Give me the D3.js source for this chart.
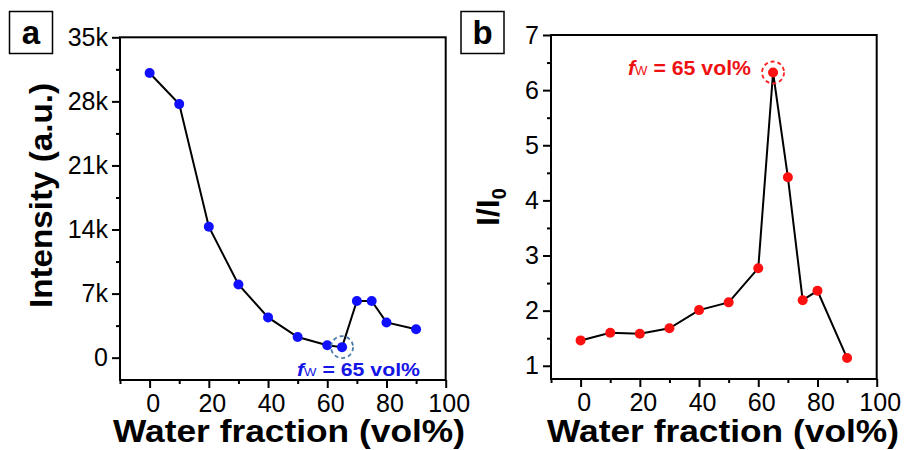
<!DOCTYPE html>
<html>
<head>
<meta charset="utf-8">
<script src="https://cdn.jsdelivr.net/npm/d3@7.9.0/dist/d3.min.js"></script>
<style>
  html, body { margin: 0; padding: 0; background: #fff; }
  svg { display: block; font-family: "Liberation Sans", Arial, sans-serif; }
  .tick text { font-size: 25px; fill: #000; }
  .domain { display: none; }
  .tick line { stroke: #000; stroke-width: 2; }
</style>
</head>
<body>
<svg id="chart" width="912" height="450"></svg>
<script>
// water fraction (vol%)
const fractions = [0, 10, 20, 30, 40, 50, 60, 65, 70, 75, 80, 90];
// panel a: PL intensity (a.u.)
const intensity = [31100, 27700, 14300, 8000, 4400, 2250, 1350, 1150, 6200, 6200, 3850, 3100];
// panel b: I/I0
const ratio = [1.46, 1.60, 1.58, 1.68, 2.01, 2.15, 2.77, 6.32, 4.42, 2.19, 2.36, 1.14];

const xTicks = [0, 20, 40, 60, 80, 100];
const xMinor = [-10, 10, 30, 50, 70, 90];
const intensityTicks = [0, 7000, 14000, 21000, 28000, 35000];
const intensityMinor = [3500, 10500, 17500, 24500, 31500];
const ratioTicks = [1, 2, 3, 4, 5, 6, 7];
const ratioMinor = [1.5, 2.5, 3.5, 4.5, 5.5, 6.5];

const svg = d3.select('#chart');

function drawPanel(p) {
  const x = d3.scaleLinear().domain([-10, 100]).range([p.left, p.right]);
  const y = d3.scaleLinear().domain(p.yDomain).range([p.bottom, p.top]);
  const g = svg.append('g');

  // minor ticks
  g.append('g')
    .attr('transform', `translate(0,${p.bottom})`)
    .call(d3.axisBottom(x).tickValues(xMinor).tickSize(4).tickFormat(''));
  g.append('g')
    .attr('transform', `translate(${p.left},0)`)
    .call(d3.axisLeft(y).tickValues(p.yMinor).tickSize(4).tickFormat(''));

  // major ticks
  g.append('g')
    .attr('transform', `translate(0,${p.bottom})`)
    .call(d3.axisBottom(x).tickValues(xTicks).tickSize(8).tickPadding(6))
    .selectAll('text').attr('dx', 3);
  g.append('g')
    .attr('transform', `translate(${p.left},0)`)
    .call(d3.axisLeft(y).tickValues(p.yTicks).tickSize(8).tickPadding(4).tickFormat(p.yFormat));

  // frame
  g.append('rect')
    .attr('x', p.left).attr('y', p.top)
    .attr('width', p.right - p.left).attr('height', p.bottom - p.top)
    .attr('fill', 'none').attr('stroke', '#000').attr('stroke-width', 2);

  const pts = fractions.map((f, i) => [f, p.values[i]]);
  g.append('path')
    .datum(pts)
    .attr('fill', 'none').attr('stroke', '#000').attr('stroke-width', 2)
    .attr('d', d3.line().x((d) => x(d[0])).y((d) => y(d[1])));

  g.append('g').selectAll('circle')
    .data(pts)
    .join('circle')
    .attr('cx', (d) => x(d[0])).attr('cy', (d) => y(d[1]))
    .attr('r', 5).attr('fill', p.color);

  // highlighted point (65 vol%)
  const hi = fractions.indexOf(65);
  g.append('circle')
    .attr('cx', x(65)).attr('cy', y(p.values[hi]))
    .attr('r', 11).attr('fill', 'none')
    .attr('stroke', p.ringColor).attr('stroke-width', 1.8)
    .attr('stroke-dasharray', '4,3');

  const note = g.append('text')
    .attr('x', p.noteX).attr('y', p.noteY)
    .attr('fill', p.textColor).attr('font-weight', 'bold').attr('font-size', p.noteSize)
    .attr('textLength', 123).attr('lengthAdjust', 'spacingAndGlyphs');
  note.append('tspan').attr('font-style', 'italic').text('f');
  note.append('tspan').attr('font-size', p.noteSize * 0.62).attr('font-weight', 'normal').text('W');
  note.append('tspan').text(' = 65 vol%');

  // x title
  g.append('text')
    .attr('x', p.titleX).attr('y', 442)
    .attr('font-size', 32).attr('font-weight', 'bold')
    .attr('textLength', 352).attr('lengthAdjust', 'spacingAndGlyphs')
    .text('Water fraction (vol%)');

  // panel letter
  g.append('rect')
    .attr('x', p.boxX).attr('y', 11.5).attr('width', 43).attr('height', 42)
    .attr('fill', '#fff').attr('stroke', '#000').attr('stroke-width', 1.5);
  g.append('text')
    .attr('x', p.boxX + 21.5).attr('y', 44)
    .attr('text-anchor', 'middle').attr('font-size', 33).attr('font-weight', 'bold')
    .text(p.letter);

  return g;
}

const ga = drawPanel({
  left: 120, right: 445.7, top: 37.3, bottom: 380,
  yDomain: [-2440, 35000], yTicks: intensityTicks, yMinor: intensityMinor,
  yFormat: (d) => (d === 0 ? '0' : `${d / 1000}k`),
  values: intensity, color: '#1010ff', ringColor: '#4a7aa8', textColor: '#1515e6',
  noteX: 297, noteY: 376, noteSize: 19, titleX: 113, boxX: 9.5, letter: 'a',
});

ga.append('text')
  .attr('transform', 'translate(52,308) rotate(-90)')
  .attr('font-size', 32).attr('font-weight', 'bold')
  .attr('textLength', 225).attr('lengthAdjust', 'spacingAndGlyphs')
  .text('Intensity (a.u.)');

const gb = drawPanel({
  left: 551, right: 876.7, top: 35, bottom: 379,
  yDomain: [0.76, 7], yTicks: ratioTicks, yMinor: ratioMinor,
  yFormat: d3.format('d'),
  values: ratio, color: '#ff1010', ringColor: '#ff2020', textColor: '#ee1111',
  noteX: 628, noteY: 74.5, noteSize: 20, titleX: 547, boxX: 461, letter: 'b',
});

const yl = gb.append('text')
  .attr('transform', 'translate(499,226) rotate(-90)')
  .attr('font-size', 32).attr('font-weight', 'bold');
yl.append('tspan').text('I/I');
yl.append('tspan').attr('font-size', 20).attr('dy', 7).text('0');
</script>
</body>
</html>
